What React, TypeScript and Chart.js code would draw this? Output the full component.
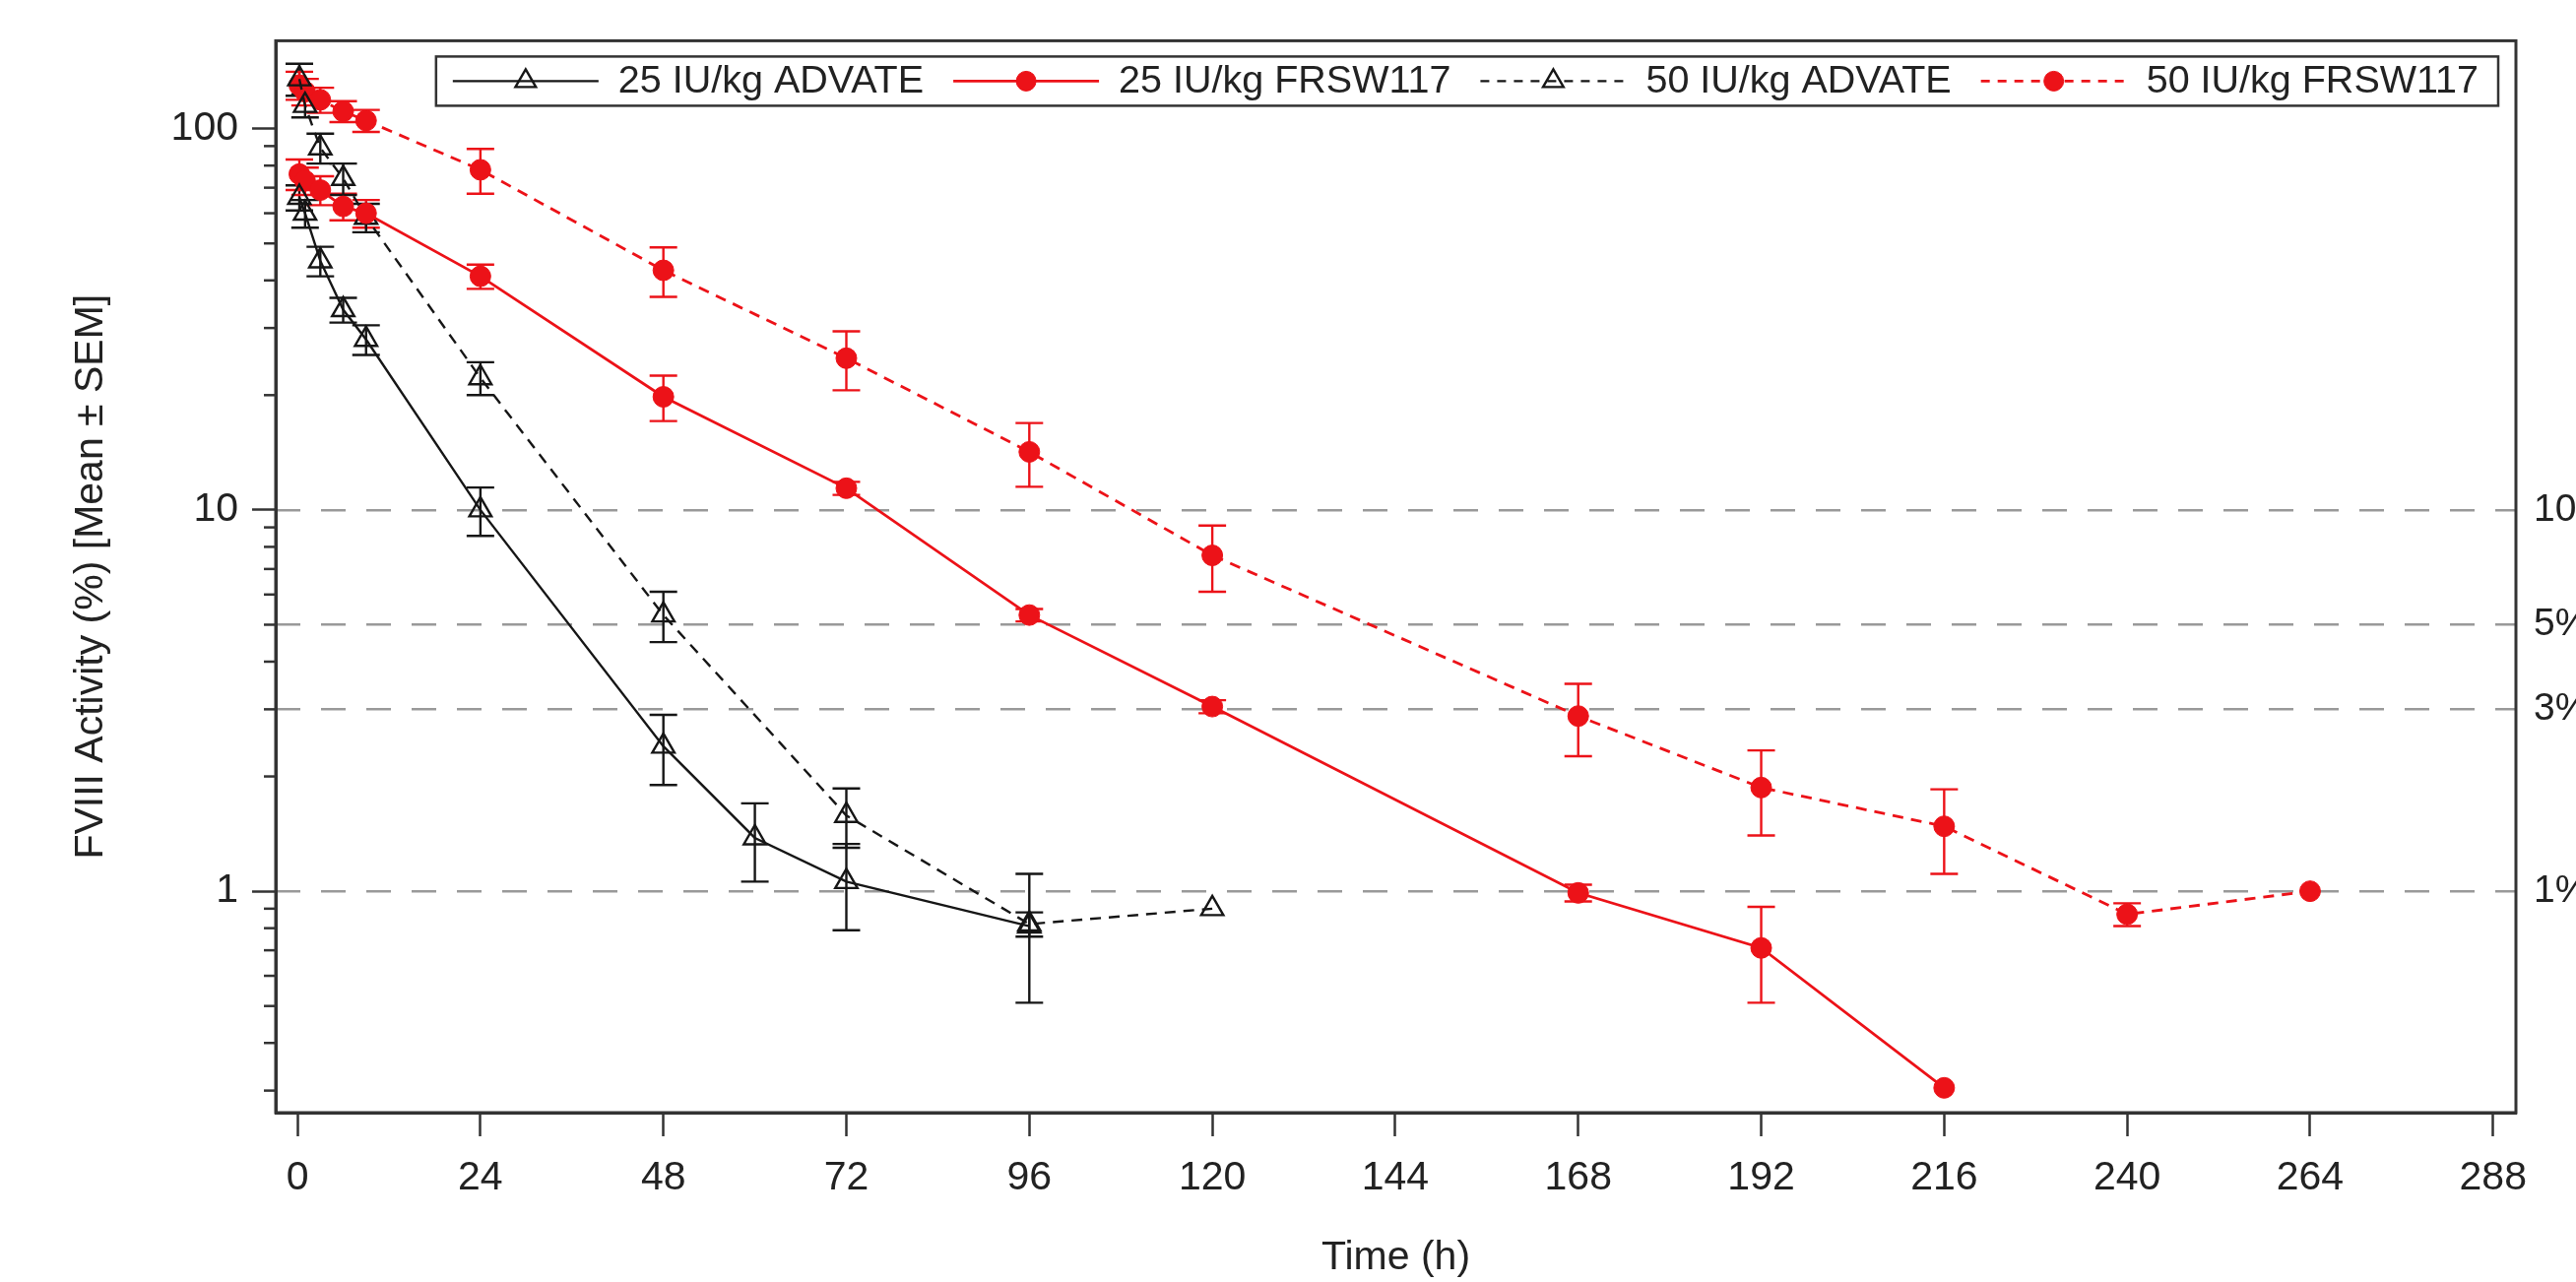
import React, { useEffect, useRef } from "react";
import { Chart, registerables } from "chart.js";
import { drawPoint } from "chart.js/helpers";

Chart.register(...registerables);

// ---------- data ----------
const TIME_ADV25 = [0.25, 1, 3, 6, 9, 24, 48, 60, 72, 96];
const MEAN_ADV25 = [66, 60, 45, 33.5, 28, 10, 2.4, 1.38, 1.06, 0.81];
const SEM_ADV25 = [5, 5, 4, 2.5, 2.5, 1.45, 0.5, 0.32, 0.27, 0.3];

const TIME_FRS25 = [0.25, 1, 3, 6, 9, 24, 48, 72, 96, 120, 168, 192, 216];
const MEAN_FRS25 = [76, 73, 69, 62.5, 60, 41, 19.8, 11.4, 5.3, 3.05, 0.99, 0.71, 0.305];
const SEM_FRS25 = [7, 6, 6, 5, 5, 3, 2.7, 0.45, 0.2, 0.12, 0.05, 0.2, 0];

const TIME_ADV50 = [0.25, 1, 3, 6, 9, 24, 48, 72, 96, 120];
const MEAN_ADV50 = [135, 115, 89, 74, 58.5, 22.2, 5.3, 1.58, 0.82, 0.9];
const SEM_ADV50 = [13, 8, 8, 7, 5, 2.2, 0.8, 0.28, 0.06, 0];

const TIME_FRS50 = [0.25, 1, 3, 6, 9, 24, 48, 72, 96, 120, 168, 192, 216, 240, 264];
const MEAN_FRS50 = [130, 125, 119, 111, 105, 78, 42.5, 25, 14.2, 7.6, 2.88, 1.87, 1.48, 0.87, 1.0];
const SEM_FRS50 = [11, 10, 9, 7, 7, 10.5, 6.3, 4.4, 2.7, 1.5, 0.62, 0.47, 0.37, 0.06, 0];

const SERIES_LABELS = ["25 IU/kg ADVATE", "25 IU/kg FRSW117", "50 IU/kg ADVATE", "50 IU/kg FRSW117"];

const X_TICKS = [0, 24, 48, 72, 96, 120, 144, 168, 192, 216, 240, 264, 288];
const Y_TICKS = [1, 10, 100];
const Y_MINOR_TICKS = [0.3, 0.4, 0.5, 0.6, 0.7, 0.8, 0.9, 2, 3, 4, 5, 6, 7, 8, 9, 20, 30, 40, 50, 60, 70, 80, 90];
const REF_LEVELS = [1, 3, 5, 10];

const X_MIN = -2.85;
const X_MAX = 291;
const Y_MIN = 0.2626;
const Y_MAX = 170;

// ---------- styles ----------
const FONT = '"Liberation Sans", Arial, Helvetica, sans-serif';
const TEXT = "#222222";
const AXIS = "#333333";
const BLACK = "#161616";
const RED = "#ec1218";
const CAP = 14;

const toPoints = (t: number[], v: number[]) => t.map((x, i) => ({ x, y: v[i] }));

const errorBarsPlugin = {
  id: "errorBars",
  beforeDatasetsDraw(chart: any) {
    const { ctx, chartArea, scales } = chart;
    const x = scales.x;
    const y = scales.y;
    ctx.save();
    ctx.beginPath();
    ctx.rect(chartArea.left, chartArea.top, chartArea.right - chartArea.left, chartArea.bottom - chartArea.top);
    ctx.clip();
    chart.data.datasets.forEach((ds: any) => {
      const sem = ds.sem as number[];
      if (!sem) return;
      ctx.strokeStyle = ds.borderColor;
      ctx.lineWidth = 2.4;
      ctx.setLineDash([]);
      ds.data.forEach((p: any, j: number) => {
        const e = sem[j];
        if (!e) return;
        const px = x.getPixelForValue(p.x);
        const yt = y.getPixelForValue(p.y + e);
        const yb = y.getPixelForValue(Math.max(p.y - e, 1e-4));
        ctx.beginPath();
        ctx.moveTo(px, yt);
        ctx.lineTo(px, yb);
        ctx.moveTo(px - CAP, yt);
        ctx.lineTo(px + CAP, yt);
        ctx.moveTo(px - CAP, yb);
        ctx.lineTo(px + CAP, yb);
        ctx.stroke();
      });
    });
    ctx.restore();
  },
};

const frameAndMinorPlugin = {
  id: "frameAndMinor",
  afterDraw(chart: any) {
    const { ctx, chartArea } = chart;
    const y = chart.scales.y;
    ctx.save();
    ctx.strokeStyle = AXIS;
    ctx.lineWidth = 2.5;
    ctx.setLineDash([]);
    Y_MINOR_TICKS.forEach((v) => {
      const py = y.getPixelForValue(v);
      if (py < chartArea.top || py > chartArea.bottom) return;
      ctx.beginPath();
      ctx.moveTo(chartArea.left - 12, py);
      ctx.lineTo(chartArea.left, py);
      ctx.stroke();
    });
    ctx.lineWidth = 3;
    ctx.strokeRect(chartArea.left, chartArea.top, chartArea.right - chartArea.left, chartArea.bottom - chartArea.top);
    ctx.restore();
  },
};

const legendBoxPlugin = {
  id: "legendBox",
  afterDraw(chart: any) {
    const { ctx, chartArea } = chart;
    ctx.save();
    ctx.font = `39.5px ${FONT}`;
    const items = chart.data.datasets.map((ds: any) => ({ ds, w: ctx.measureText(ds.label).width }));
    const padL = 17;
    const padR = 20;
    const lineW = 148;
    const gapT = 20;
    const gapI = 30;
    const h = 50;
    let total = padL + padR + gapI * (items.length - 1);
    items.forEach((it: any) => {
      total += lineW + gapT + it.w;
    });
    const right = chartArea.right - 18;
    const top = chartArea.top + 16;
    const left = right - total;
    ctx.fillStyle = "#ffffff";
    ctx.fillRect(left, top, total, h);
    ctx.lineWidth = 2.5;
    ctx.strokeStyle = AXIS;
    ctx.setLineDash([]);
    ctx.strokeRect(left, top, total, h);
    let cx = left + padL;
    const cy = top + h / 2;
    items.forEach(({ ds, w }: any) => {
      ctx.strokeStyle = ds.borderColor;
      ctx.lineWidth = ds.borderWidth;
      ctx.setLineDash(ds.legendDash || []);
      ctx.beginPath();
      ctx.moveTo(cx, cy);
      ctx.lineTo(cx + lineW, cy);
      ctx.stroke();
      ctx.setLineDash([]);
      ctx.fillStyle = ds.pointBackgroundColor;
      ctx.strokeStyle = ds.pointBorderColor;
      ctx.lineWidth = ds.pointBorderWidth;
      drawPoint(ctx, { pointStyle: ds.pointStyle, radius: ds.legendRadius, borderWidth: ds.pointBorderWidth, rotation: 0 } as any, cx + lineW / 2, cy);
      ctx.fillStyle = TEXT;
      ctx.textBaseline = "middle";
      ctx.textAlign = "left";
      ctx.fillText(ds.label, cx + lineW + gapT, cy + 1);
      cx += lineW + gapT + w + gapI;
    });
    ctx.restore();
  },
};

function makeDataset(label: string, t: number[], v: number[], sem: number[], color: string, dashed: boolean, tri: boolean) {
  return {
    label,
    data: toPoints(t, v),
    sem,
    borderColor: color,
    borderWidth: tri ? 2.4 : 2.8,
    borderDash: dashed ? [11, 8] : [],
    legendDash: dashed ? [9, 8] : [],
    tension: 0,
    fill: false,
    pointStyle: tri ? "triangle" : "circle",
    pointRadius: tri ? 13 : 10.5,
    pointHoverRadius: tri ? 13 : 10.5,
    legendRadius: tri ? 12 : 10,
    pointBorderWidth: tri ? 2.4 : 1,
    pointBackgroundColor: tri ? "rgba(255,255,255,0)" : color,
    pointBorderColor: color,
  };
}

export default function App() {
  const ref = useRef<HTMLCanvasElement | null>(null);

  useEffect(() => {
    if (!ref.current) return;
    const tickFont = { family: FONT, size: 41 };
    const chart = new Chart(ref.current, {
      type: "line",
      data: {
        datasets: [
          makeDataset(SERIES_LABELS[0], TIME_ADV25, MEAN_ADV25, SEM_ADV25, BLACK, false, true),
          makeDataset(SERIES_LABELS[1], TIME_FRS25, MEAN_FRS25, SEM_FRS25, RED, false, false),
          makeDataset(SERIES_LABELS[2], TIME_ADV50, MEAN_ADV50, SEM_ADV50, BLACK, true, true),
          makeDataset(SERIES_LABELS[3], TIME_FRS50, MEAN_FRS50, SEM_FRS50, RED, true, false),
        ] as any,
      },
      options: {
        responsive: false,
        animation: false,
        devicePixelRatio: 1,
        layout: { padding: { left: 68, top: 41, right: 0, bottom: 0 } },
        plugins: { legend: { display: false }, tooltip: { enabled: false } },
        scales: {
          x: {
            type: "linear",
            min: X_MIN,
            max: X_MAX,
            afterBuildTicks: (s: any) => {
              s.ticks = X_TICKS.map((v) => ({ value: v }));
            },
            afterFit: (s: any) => {
              s.height = 172;
            },
            ticks: { font: tickFont, color: TEXT, padding: 18, maxRotation: 0, autoSkip: false, callback: (v: any) => String(v) },
            grid: { drawOnChartArea: false, tickLength: 24, tickColor: AXIS, tickWidth: 2.5 },
            border: { color: AXIS, width: 3 },
            title: { display: true, text: "Time (h)", font: tickFont, color: TEXT, padding: { top: 0, bottom: 0 } },
          },
          y: {
            type: "logarithmic",
            position: "left",
            min: Y_MIN,
            max: Y_MAX,
            afterBuildTicks: (s: any) => {
              s.ticks = Y_TICKS.map((v) => ({ value: v }));
            },
            afterFit: (s: any) => {
              s.width = 212;
            },
            ticks: { font: tickFont, color: TEXT, padding: 14, autoSkip: false, callback: (v: any) => String(v) },
            grid: { drawOnChartArea: false, tickLength: 24, tickColor: AXIS, tickWidth: 2.5 },
            border: { color: AXIS, width: 3 },
            title: { display: true, text: "FVIII Activity (%) [Mean ± SEM]", font: tickFont, color: TEXT, padding: { top: 0, bottom: 0 } },
          },
          y2: {
            type: "logarithmic",
            position: "right",
            min: Y_MIN,
            max: Y_MAX,
            afterBuildTicks: (s: any) => {
              s.ticks = REF_LEVELS.map((v) => ({ value: v }));
            },
            afterFit: (s: any) => {
              s.width = 145;
            },
            ticks: { font: { family: FONT, size: 39 }, color: TEXT, padding: 18, autoSkip: false, callback: (v: any) => `${v}%` },
            grid: { color: "#999999", lineWidth: 2.6, drawTicks: false, drawOnChartArea: true },
            border: { display: false, dash: [25, 21] },
          },
        },
      } as any,
      plugins: [errorBarsPlugin, frameAndMinorPlugin, legendBoxPlugin],
    });
    return () => chart.destroy();
  }, []);

  return (
    <div style={{ position: "fixed", left: 0, top: 0, width: 2616, height: 1302, overflow: "hidden", background: "#ffffff" }}>
      <canvas ref={ref} width={2700} height={1302} style={{ display: "block", width: 2700, height: 1302 }} />
    </div>
  );
}
